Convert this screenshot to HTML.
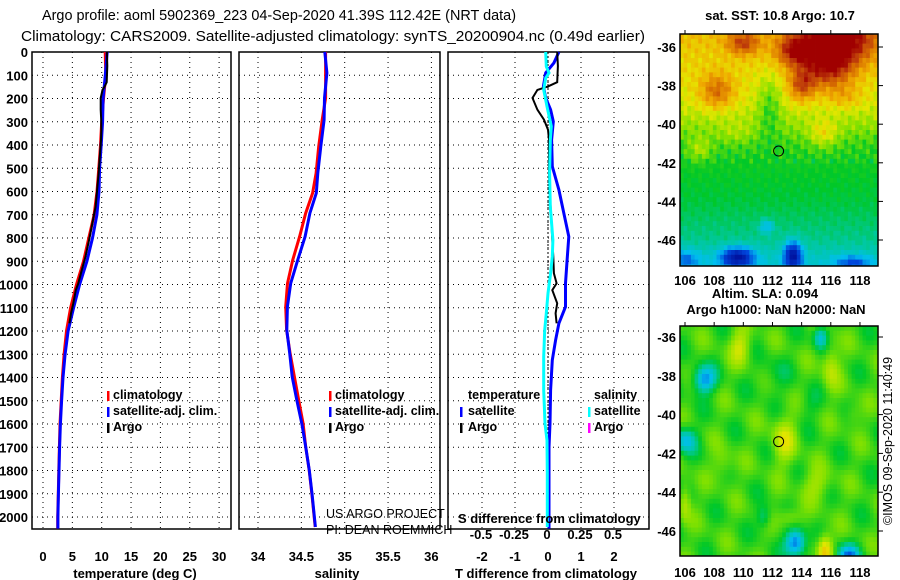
<!DOCTYPE html>
<html><head><meta charset="utf-8"><style>
html,body{margin:0;padding:0;background:#fff;}
svg{display:block;font-family:"Liberation Sans",sans-serif;}
.tk{font-size:13px;font-weight:bold;fill:#000;}
.lg{font-size:12.5px;font-weight:bold;fill:#000;}
.nm{font-size:12.5px;font-weight:normal;fill:#000;}
</style></head><body>
<svg id="fig" width="900" height="580" viewBox="0 0 900 580" xmlns="http://www.w3.org/2000/svg">
<text x="42" y="20" textLength="474" lengthAdjust="spacingAndGlyphs" font-size="15">Argo profile: aoml 5902369_223 04-Sep-2020 41.39S 112.42E (NRT data)</text>
<text x="21" y="41" textLength="624" lengthAdjust="spacingAndGlyphs" font-size="15">Climatology: CARS2009. Satellite-adjusted climatology: synTS_20200904.nc (0.49d earlier)</text>
<g id="charts"></g>
<g id="maps"></g>
</svg>
<script>
// ---- profile data ----
const depthsT = [0,100,200,300,400,500,600,700,800,900,1000,1100,1200,1300,1400,1500,1600,1700,1800,1900,2000,2050];
const tempClim = [10.6,10.7,10.3,10.0,9.8,9.5,9.2,8.7,7.8,6.9,5.7,4.7,4.0,3.6,3.3,3.1,2.9,2.8,2.7,2.6,2.5,2.5];
const depthsTd = [0,47,90,148,198,248,299,378,492,593,693,794,895,995,1096,1167,1239,1325,1454,1598,1700,2050];
const tDiffSat = [0.33,0.18,-0.07,-0.14,-0.07,0.08,0.16,0.11,0.13,0.33,0.48,0.63,0.58,0.53,0.53,0.33,0.23,0.13,0.08,0.06,0.03,0.03];
const depthsArgo = [0,60,130,148,163,198,248,291,334,378,522,665,808,880,952,995,1024,1081,1124,1167];
const tDiffArgo = [0.28,0.3,0.28,0.0,-0.32,-0.47,-0.32,-0.12,0.0,0.03,0.03,0.08,0.13,0.16,0.18,0.26,0.13,0.28,0.23,0.26];
const depthsS = [0,90,198,292,406,521,607,693,794,895,995,1096,1196,1296,1397,1497,1598,1698,1799,1899,2043];
const salClim = [34.78,34.78,34.78,34.74,34.70,34.67,34.63,34.55,34.48,34.40,34.34,34.32,34.33,34.37,34.42,34.47,34.52,34.55,34.59,34.62,34.66];
const depthsSd = [0,62,90,112,162,234,320,378,521,665,808,880,952,1038,1124,1196,1311,1454,1598,1670,1813,2043];
const sDiffSat = [-0.01,-0.005,0.015,-0.01,-0.025,0,0.0325,0.025,0.02,0.025,0.045,0.04,0.0275,0.0075,-0.005,-0.0175,-0.025,-0.025,-0.015,0,0.0025,0.0025];
const depthTicks = [0,100,200,300,400,500,600,700,800,900,1000,1100,1200,1300,1400,1500,1600,1700,1800,1900,2000];
const tTicks = [0,5,10,15,20,25,30];
const sTicks = [34,34.5,35,35.5,36];
const sTickLabels = ["34","34.5","35","35.5","36"];
const dTicks = [-2,-1,0,1,2];
const sdTicks = [-0.5,-0.25,0,0.25,0.5];

const NS="http://www.w3.org/2000/svg";
function mk(tag,attrs,parent,txt){const e=document.createElementNS(NS,tag);for(const k in attrs)e.setAttribute(k,attrs[k]);if(txt!==undefined)e.textContent=txt;parent.appendChild(e);return e;}
function interp(xs,ys,x){if(x<=xs[0])return ys[0];for(let i=1;i<xs.length;i++){if(x<=xs[i]){const f=(x-xs[i-1])/(xs[i]-xs[i-1]);return ys[i-1]+f*(ys[i]-ys[i-1]);}}return ys[ys.length-1];}
const yD = d => 52 + d*0.2325;
const xT = t => 43 + t*5.87;
const xS = s => 258 + (s-34)*86.7;
const xTd = v => 548 + v*33;
const xSd = v => 547 + v*132;
const charts=document.getElementById('charts');

function panel(x0,x1,name,xticks,xfn,xlabels){
  const g=mk('g',{},charts);
  
  
  depthTicks.forEach(d=>{if(d>0){const l=mk('line',{x1:x0,x2:x1,y1:yD(d),y2:yD(d),stroke:'#000','stroke-width':1,'stroke-dasharray':'1,4'},g);}});
  xticks.forEach(t=>{const l=mk('line',{x1:xfn(t),x2:xfn(t),y1:52,y2:529,stroke:'#000','stroke-width':1,'stroke-dasharray':'1,4'},g);});
  if(xlabels){xticks.forEach((t,i)=>{const tx=mk('text',{x:xfn(t),y:561,'text-anchor':'middle',class:'tk'},g,xlabels[i]);});}
  const r=mk('rect',{x:x0,y:52,width:x1-x0,height:477,fill:'none',stroke:'#000','stroke-width':1.5},g);
  
  return g;
}
function poly(g,ds,vals,fn,color,w,name){
  const pts=ds.map((d,i)=>fn(vals[i]).toFixed(1)+','+yD(d).toFixed(1)).join(' ');
  const p=mk('polyline',{points:pts,fill:'none',stroke:color,'stroke-width':w,'stroke-linejoin':'miter'},g);
  
}
const g1=panel(32,231,'temperature-panel',tTicks,xT,tTicks.map(String));
depthTicks.forEach(d=>{const t=mk('text',{x:28,y:yD(d)+5,'text-anchor':'end',class:'tk'},g1,String(d));});
const tSatVals=depthsT.map((d,i)=>tempClim[i]+interp(depthsTd,tDiffSat,d));
const tArgoVals=depthsArgo.map(d=>interp(depthsT,tempClim,d)+interp(depthsArgo,tDiffArgo,d));
poly(g1,depthsT,tempClim,xT,'#ff0000',3,'temp-climatology-line');
poly(g1,depthsT,tSatVals,xT,'#0000ff',3,'temp-satellite-line');
poly(g1,depthsArgo,tArgoVals,xT,'#000000',2,'temp-argo-line');
const g2=panel(239,440,'salinity-panel',sTicks,xS,sTickLabels);
const sSatVals=depthsS.map((d,i)=>salClim[i]+interp(depthsSd,sDiffSat,d)+ (d>600&&d<1300?0.02:0));
poly(g2,depthsS,salClim,xS,'#ff0000',3,'sal-climatology-line');
poly(g2,depthsS,sSatVals,xS,'#0000ff',3,'sal-satellite-line');
const g3=panel(448,649,'difference-panel',dTicks,xTd,dTicks.map(String));
const zl=mk('line',{x1:548,x2:548,y1:52,y2:529,stroke:'#000','stroke-dasharray':'2,2'},g3);

poly(g3,depthsTd,tDiffSat,xTd,'#0000ff',3,'tdiff-satellite-line');
poly(g3,depthsArgo,tDiffArgo,xTd,'#000000',2,'tdiff-argo-line');
poly(g3,depthsSd,sDiffSat,xSd,'#00ffff',3,'sdiff-satellite-line');
sdTicks.forEach((v,i)=>{const t=mk('text',{x:xSd(v),y:539,'text-anchor':'middle',class:'tk'},g3,String(v));});
</script>
<script>
(function(){
const fig=document.getElementById('fig');
function T(x,y,s,cls,name,anchor,extra){const e=document.createElementNS("http://www.w3.org/2000/svg",'text');e.setAttribute('x',x);e.setAttribute('y',y);e.setAttribute('class',cls);if(anchor)e.setAttribute('text-anchor',anchor);if(extra)for(const k in extra)e.setAttribute(k,extra[k]);e.textContent=s;fig.appendChild(e);return e;}
function M(x,y,c,name){const r=document.createElementNS("http://www.w3.org/2000/svg",'rect');r.setAttribute('x',x);r.setAttribute('y',y);r.setAttribute('width',2.5);r.setAttribute('height',10);r.setAttribute('fill',c);fig.appendChild(r);}
T(135,578,'temperature (deg C)','tk','x-axis-title-temperature','middle');
T(337,578,'salinity','tk','x-axis-title-salinity','middle');
T(546,578,'T difference from climatology','tk','x-axis-title-tdiff','middle');
T(458,523,'S difference from climatology','tk','s-diff-axis-title');
T(326,518,'US ARGO PROJECT','nm','credit-project');
T(326,534,'PI: DEAN ROEMMICH','nm','credit-pi');
[[107,113],[329,335]].forEach(([mx,tx])=>{
 M(mx,391,'#ff0000','legend-climatology-marker');T(tx,399,'climatology','lg','legend-climatology');
 M(mx,407,'#0000ff','legend-satellite-marker');T(tx,415,'satellite-adj. clim.','lg','legend-satellite');
 M(mx,423,'#000000','legend-argo-marker');T(tx,431,'Argo','lg','legend-argo');
});
T(468,399,'temperature','lg','legend-temperature-header');
T(594,399,'salinity','lg','legend-salinity-header');
M(460,407,'#0000ff','legend-t-satellite-marker');T(468,415,'satellite','lg','legend-t-satellite');
M(460,423,'#000000','legend-t-argo-marker');T(468,431,'Argo','lg','legend-t-argo');
M(588,407,'#00ffff','legend-s-satellite-marker');T(594,415,'satellite','lg','legend-s-satellite');
M(588,423,'#ff00ff','legend-s-argo-marker');T(594,431,'Argo','lg','legend-s-argo');
T(780,20,'sat. SST: 10.8 Argo: 10.7','tk','sst-map-title','middle');
T(765,298,'Altim. SLA: 0.094','tk','sla-label','middle');
T(776,314,'Argo h1000: NaN h2000: NaN','tk','sla-map-title','middle');
T(0,0,'©IMOS 09-Sep-2020 11:40:49','nm','timestamp','middle',{transform:'translate(892,441) rotate(-90)'});
const cols=[[0,[0,20,160]],[0.12,[0,70,220]],[0.2,[0,190,240]],[0.27,[0,200,160]],[0.33,[0,200,40]],[0.42,[130,225,0]],[0.52,[230,230,0]],[0.62,[240,170,0]],[0.72,[215,110,0]],[0.8,[190,60,10]],[0.88,[160,0,0]]];
function col(v){if(v<=cols[0][0])return cols[0][1];for(let i=1;i<cols.length;i++){if(v<=cols[i][0]){const f=(v-cols[i-1][0])/(cols[i][0]-cols[i-1][0]);const a=cols[i-1][1],b=cols[i][1];return a.map((x,j)=>Math.round(x+f*(b[j]-x)));}}return cols[cols.length-1][1];}
function gs(lon,lat,b){const dx=(lon-b[0])/b[2],dy=(lat-b[1])/b[3];return b[4]*Math.exp(-(dx*dx+dy*dy));}
const sstBlobs=[[116.5,-35.6,2.6,1.2,0.36],[115.8,-37,1.8,1.2,0.3],[114,-38,0.9,0.8,0.22],[113.5,-36.2,1.2,0.8,0.25],[110,-35.8,1.1,0.6,0.22],[108.2,-38.3,1.2,0.9,0.2],[117,-38.6,1.2,0.6,0.08],[115.5,-40.5,1,0.7,0.13],[111.8,-39,0.8,1.5,-0.12],[107,-41.3,0.8,0.6,0.1],[109.5,-40.5,1.3,0.6,0.05],[109.6,-46.9,1.1,0.5,-0.25],[113.4,-46.8,0.6,0.7,-0.25],[111.6,-45.3,0.5,0.35,-0.1],[106,-47,1,0.5,-0.1],[117.5,-47.2,1.2,0.4,-0.12]];
function sstBase(lat){return interp([-47.5,-46,-44,-42,-41,-40,-39,-37,-35],[0.22,0.28,0.32,0.34,0.37,0.44,0.5,0.55,0.6],lat);}
const slaBlobs=[[107.3,-38.2,0.8,0.7,-0.2],[106,-41.3,0.8,0.7,-0.15],[115.3,-36,0.5,0.6,-0.15],[113.6,-46.6,0.7,0.7,-0.25],[117.2,-47.3,0.8,0.6,-0.2],[111.4,-45.3,0.5,0.6,-0.1],[109.8,-36.5,0.7,0.9,0.12],[112.8,-41.3,0.8,1.2,0.12],[115.6,-47,0.5,0.8,0.2],[106,-44.5,0.4,1,0.1],[116,-37.5,0.6,1.2,0.1],[115,-43.6,1,0.8,0.08],[108.6,-42.6,0.7,0.8,0.06],[113.2,-45.3,0.8,0.5,0.08],[117.5,-40,0.6,0.6,0.05],[112,-38,1.2,1,-0.04],[114.5,-39.5,0.8,0.7,-0.04]];
function drawMap(name,x0,y0,x1,y1,lonAt,latAt,ticksY,ticksXpx,valfn){
 const g=document.createElementNS("http://www.w3.org/2000/svg",'g');fig.appendChild(g);
 const cw=3.65,ch=4.8;
 for(let y=y0;y<y1;y+=ch){for(let x=x0;x<x1;x+=cw){const v=valfn(lonAt(x+cw/2),latAt(y+ch/2));const c=col(v);const r=document.createElementNS("http://www.w3.org/2000/svg",'rect');r.setAttribute('x',x.toFixed(2));r.setAttribute('y',y.toFixed(2));r.setAttribute('width',Math.min(cw+0.4,x1-x).toFixed(2));r.setAttribute('height',Math.min(ch+0.4,y1-y).toFixed(2));r.setAttribute('fill','rgb('+c.join(',')+')');g.appendChild(r);}}
 const fr=document.createElementNS("http://www.w3.org/2000/svg",'rect');fr.setAttribute('x',x0);fr.setAttribute('y',y0);fr.setAttribute('width',x1-x0);fr.setAttribute('height',y1-y0);fr.setAttribute('fill','none');fr.setAttribute('stroke','#000');fr.setAttribute('stroke-width','1.5');fig.appendChild(fr);
 ticksY.forEach(([lab,py])=>{T(676,py+5,lab,'tk','map-lat-label','end');const l=document.createElementNS("http://www.w3.org/2000/svg",'line');l.setAttribute('x1',x1);l.setAttribute('x2',x1+5);l.setAttribute('y1',py);l.setAttribute('y2',py);l.setAttribute('stroke','#000');fig.appendChild(l);});
 ticksXpx.forEach(([lab,px])=>{const l=document.createElementNS("http://www.w3.org/2000/svg",'line');l.setAttribute('x1',px);l.setAttribute('x2',px);l.setAttribute('y1',y0-4);l.setAttribute('y2',y0);l.setAttribute('stroke','#000');fig.appendChild(l);});
}
const lonTicks=[106,108,110,112,114,116,118];
const lonPx=lonTicks.map(l=>[String(l),685+(l-106)*14.58]);
drawMap('sst-map',680,34,878,266,x=>106+(x-685)/14.58,y=>-36-(y-47)/19.3,[-36,-38,-40,-42,-44,-46].map(l=>[String(l),47+(-36-l)*19.3]),lonPx,(lo,la)=>sstBase(la)+sstBlobs.reduce((s,b)=>s+gs(lo,la,b),0)+0.03*Math.sin(lo*7.3+la*3.1)*Math.cos(la*5.7-lo*2.3)*(la>-42?1.5:0.5));
drawMap('sla-map',680,326,878,556,x=>106+(x-685)/14.58,y=>-36-(y-337)/19.4,[-36,-38,-40,-42,-44,-46].map(l=>[String(l),337+(-36-l)*19.4]),lonPx,(lo,la)=>0.37+0.05*Math.sin(lo*1.9+la*0.9)*Math.cos(la*1.7-lo*0.6)+slaBlobs.reduce((s,b)=>s+gs(lo,la,b),0));
lonPx.forEach(([lab,px])=>{T(px,285,lab,'tk','map-lon-label','middle',{'font-size':'14'});T(px,577,lab,'tk','map-lon-label','middle',{'font-size':'14'});});
[47+5.39*19.3,337+5.39*19.4].forEach(cy=>{const c=document.createElementNS("http://www.w3.org/2000/svg",'circle');c.setAttribute('cx',685+6.42*14.58);c.setAttribute('cy',cy);c.setAttribute('r',5);c.setAttribute('fill','none');c.setAttribute('stroke','#000');fig.appendChild(c);});
})();
</script>
</body></html>
